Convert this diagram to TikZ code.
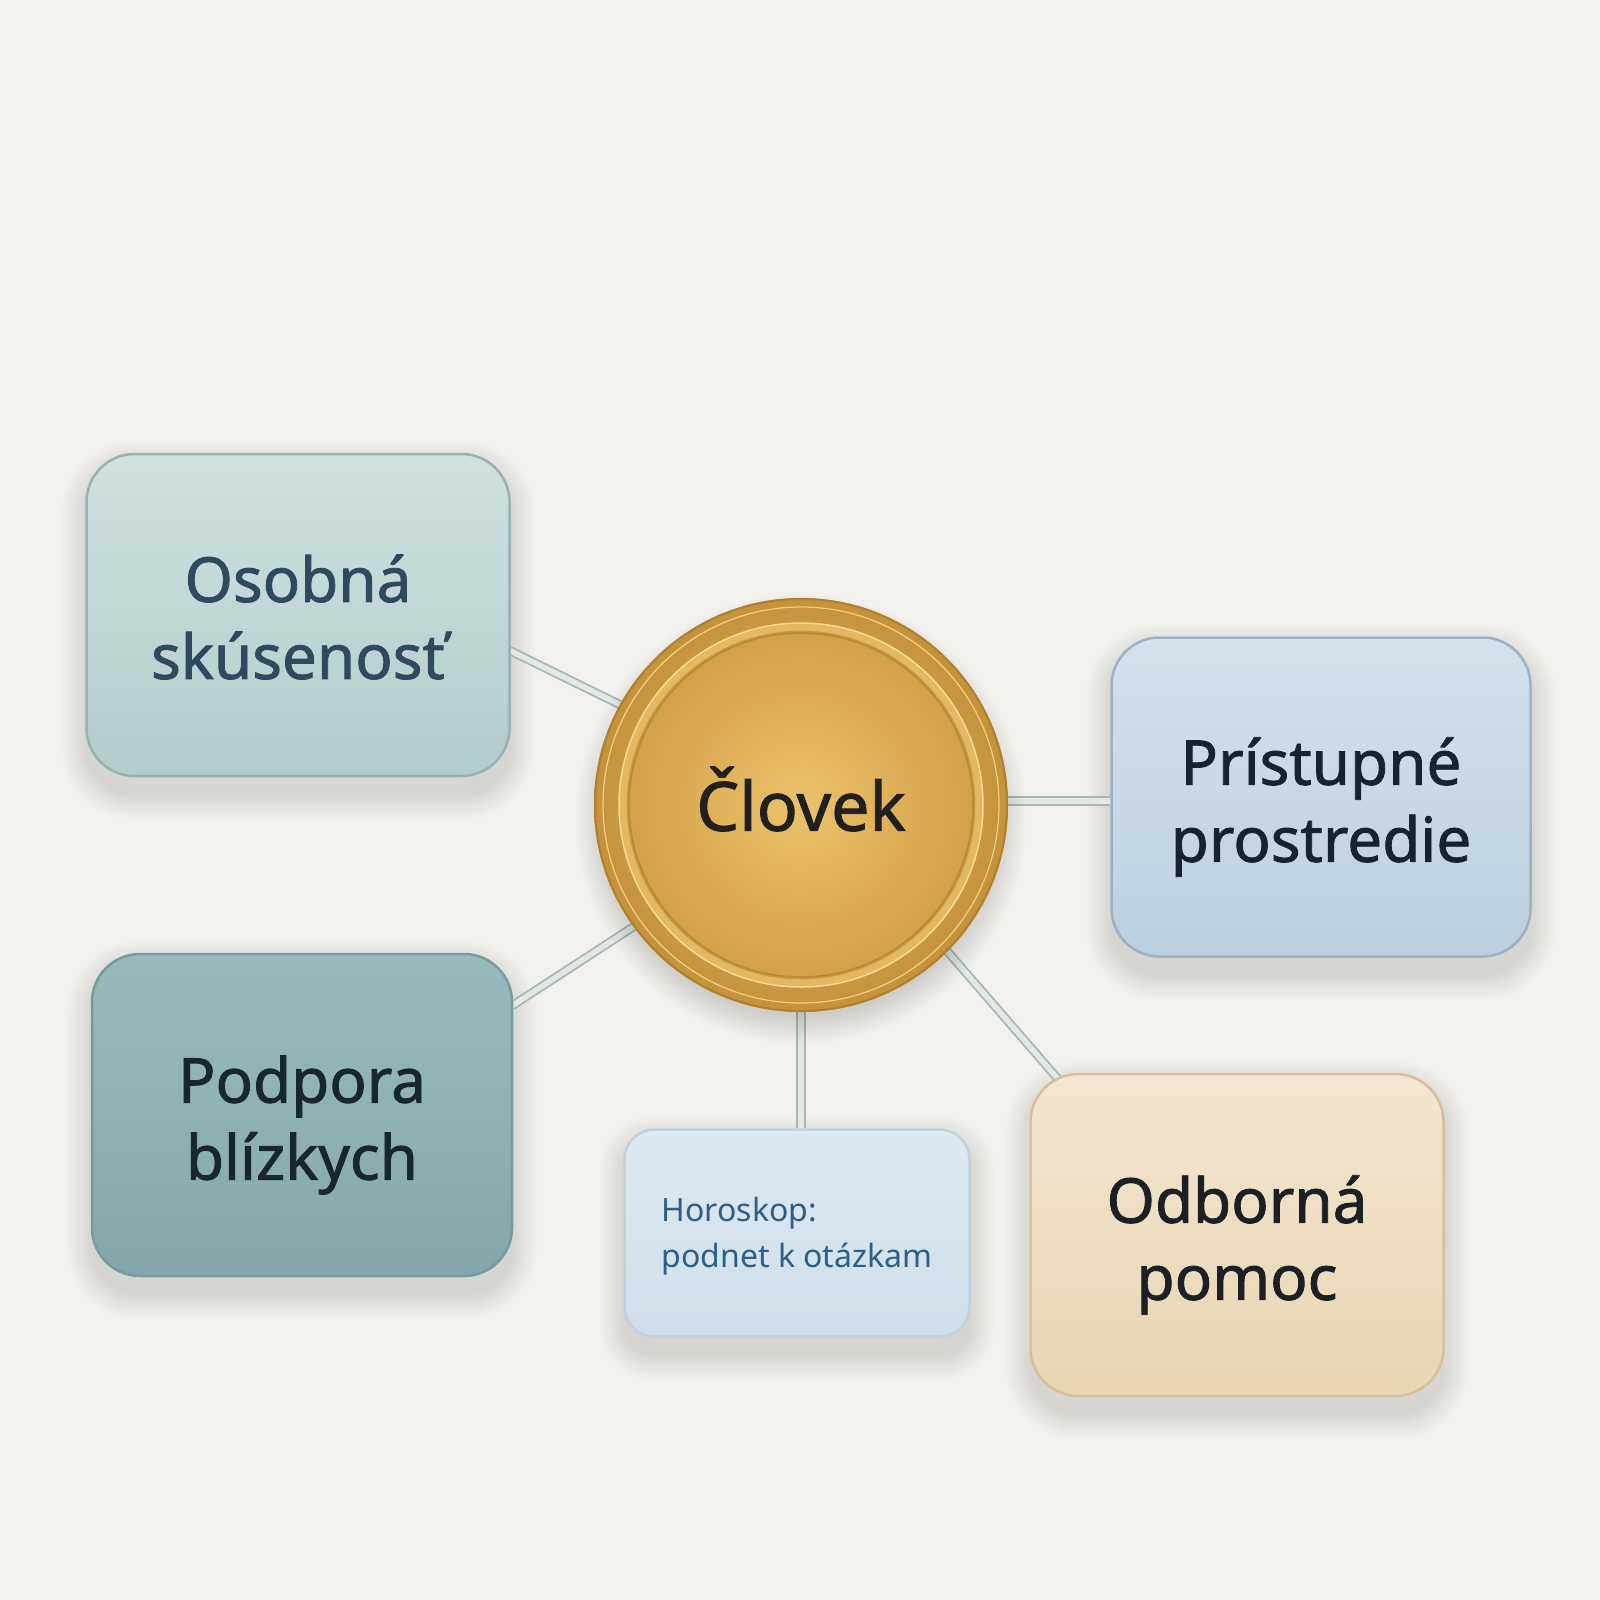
\documentclass[tikz,border=0pt]{standalone}
\usepackage{fontspec}
\setmainfont{Noto Sans}[BoldFont={Noto Sans}, BoldFeatures={FakeBold=1.3}]
\usetikzlibrary{calc}
\definecolor{bgc}{HTML}{F2F1EE}
\definecolor{tubeout}{HTML}{A9B6B2}
\definecolor{tubein}{HTML}{E1E8E6}
\pgfdeclarelayer{bglayer}
\pgfdeclarelayer{shadowlayer}
\pgfdeclarelayer{connlayer}
\pgfsetlayers{bglayer,shadowlayer,connlayer,main}
\tikzset{
  card/.style={rectangle, rounded corners=48pt, line width=2.5pt},
  cardtext/.style={align=center, font=\fontsize{62}{77}\selectfont\bfseries},
  tube/.style={draw=tubeout, line width=1.8pt, double=tubein, double distance=5.5pt, line cap=round},
}
\newcommand{\cardshadow}[2]{%
  \foreach \k in {0,...,13} {
    \fill[black, opacity=0.008, rounded corners={#2+1.8*\k}]
      ($(#1.south west)+({-1.8*\k},{18+1.8*\k})$) rectangle ($(#1.north east)+({1.8*\k},{12-1.8*\k})$);
  }}
\begin{document}
\begin{tikzpicture}[x=1pt,y=-1pt]
\useasboundingbox (0,0) rectangle (1600,1600);
\begin{pgfonlayer}{bglayer}
\fill[bgc] (0,0) rectangle (1600,1600);
\end{pgfonlayer}

% central gold disc
\node[circle, minimum size=414pt, inner sep=0pt, draw=none] (cl) at (801,805) {};
\foreach \r in {0,...,11} {
  \fill[black, opacity=0.013] ($(cl.center)+(0,14)$) circle ({198+2.4*\r});
}
\shade[inner color={rgb,255:red,232;green,192;blue,104}, outer color={rgb,255:red,196;green,146;blue,58}] (cl.center) circle (207);
\draw[line width=2pt, color={rgb,255:red,176;green,128;blue,44}] (cl.center) circle (206);
\draw[line width=1.2pt, color={rgb,255:red,240;green,208;blue,138}] (cl.center) circle (198);
\draw[line width=7pt, color={rgb,255:red,226;green,184;blue,98}] (cl.center) circle (178);
\draw[line width=1.5pt, color={rgb,255:red,246;green,220;blue,150}] (cl.center) circle (182);
\shade[inner color={rgb,255:red,234;green,194;blue,108}, outer color={rgb,255:red,212;green,161;blue,72}] (cl.center) circle (172);
\draw[line width=1.5pt, color={rgb,255:red,184;green,136;blue,50}] (cl.center) circle (172);
\node[font=\fontsize{68}{70}\selectfont\bfseries, text={rgb,255:red,34;green,32;blue,30}] (clt) at ($(cl.center)+(0,-6)$) {Človek};

% cards
\node[card, minimum width=423pt, minimum height=322pt,
  top color={rgb,255:red,208;green,225;blue,224}, bottom color={rgb,255:red,178;green,204;blue,203},
  draw={rgb,255:red,150;green,178;blue,177}] (os) at (298,615) {};
\node[cardtext, text={rgb,255:red,46;green,74;blue,95}] (ost) at ($(os.center)+(0,2)$) {Osobná\\skúsenosť};

\node[card, minimum width=419pt, minimum height=319pt,
  top color={rgb,255:red,212;green,225;blue,235}, bottom color={rgb,255:red,188;green,207;blue,222},
  draw={rgb,255:red,156;green,177;blue,196}] (pr) at (1321,797) {};
\node[cardtext, text={rgb,255:red,23;green,34;blue,48}] (prt) at ($(pr.center)+(0,10)$) {Prístupné\\prostredie};

\node[card, minimum width=420pt, minimum height=322pt,
  top color={rgb,255:red,152;green,186;blue,188}, bottom color={rgb,255:red,132;green,168;blue,170},
  draw={rgb,255:red,118;green,154;blue,157}] (po) at (302,1115) {};
\node[cardtext, text={rgb,255:red,24;green,38;blue,46}] (pot) at ($(po.center)+(0,10)$) {Podpora\\blízkych};

\node[card, rounded corners=30pt, minimum width=345pt, minimum height=207pt,
  top color={rgb,255:red,221;green,233;blue,240}, bottom color={rgb,255:red,207;green,223;blue,233},
  draw={rgb,255:red,192;green,210;blue,222}] (ho) at (797,1233) {};
\node[align=left, font=\fontsize{32}{46}\selectfont, text={rgb,255:red,43;green,94;blue,136}] (hot) at ($(ho.center)+(0,3)$) {Horoskop:\\podnet k otázkam};

\node[card, minimum width=413pt, minimum height=322pt,
  top color={rgb,255:red,243;green,231;blue,209}, bottom color={rgb,255:red,232;green,213;blue,178},
  draw={rgb,255:red,214;green,192;blue,154}] (od) at (1237,1235) {};
\node[cardtext, text={rgb,255:red,28;green,31;blue,36}] (odt) at ($(od.center)+(0,10)$) {Odborná\\pomoc};

% shadows
\begin{pgfonlayer}{shadowlayer}
\cardshadow{os}{48}
\cardshadow{pr}{48}
\cardshadow{po}{48}
\cardshadow{ho}{30}
\cardshadow{od}{48}
\end{pgfonlayer}

% connectors
\begin{pgfonlayer}{connlayer}
\draw[tube] ([yshift=-36pt]os.east) -- (cl.151);
\draw[tube] ([yshift=4pt]cl.east) -- ([yshift=4pt]cl.east -| pr.west);
\draw[tube] ([yshift=110pt]po.east) -- (cl.216);
\draw[tube] (cl.270) -- (cl.270 |- ho.north);
\draw[tube] ($(od.north west)+(45,25)$) -- (cl.-45);
\end{pgfonlayer}
\end{tikzpicture}
\end{document}
